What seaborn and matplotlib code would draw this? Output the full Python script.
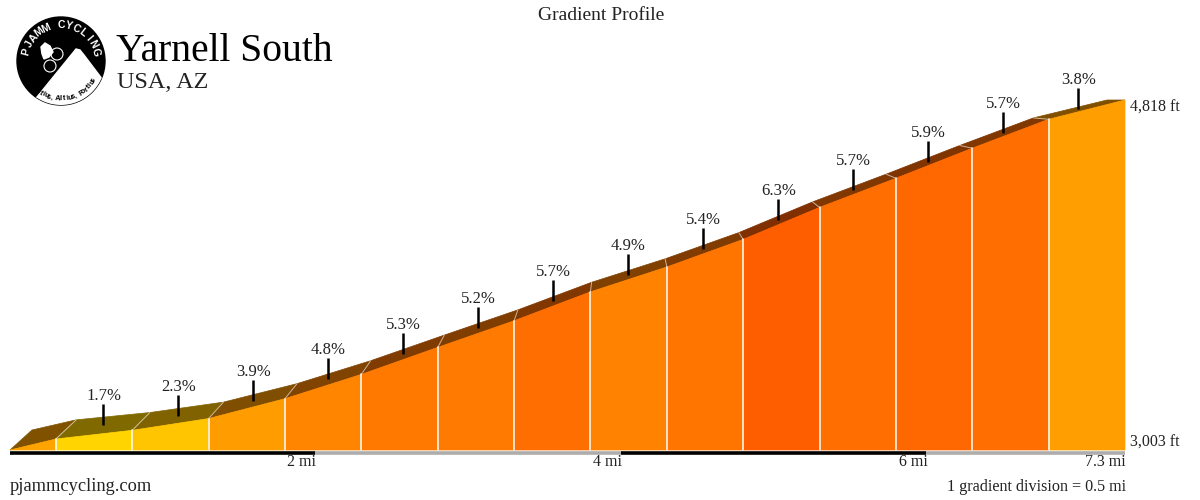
import numpy as np
import pandas as pd
import matplotlib
matplotlib.use("Agg")
import matplotlib.pyplot as plt
from matplotlib.colors import LinearSegmentedColormap, Normalize, to_rgb
from matplotlib.patches import Polygon, Circle
import seaborn as sns

# gradient divisions: boundaries (mi), elevation at each boundary (ft), grade of each division (%)
dist_mi = [0.0, 0.3, 0.8, 1.3, 1.8, 2.3, 2.8, 3.3, 3.8, 4.3, 4.8, 5.3, 5.8, 6.3, 6.8, 7.3]
elev_ft = [3003, 3060, 3105, 3166, 3269, 3395, 3535, 3673, 3823, 3952, 4095, 4261, 4412, 4568, 4718, 4818]
grade_pct = [3.6, 1.7, 2.3, 3.9, 4.8, 5.3, 5.2, 5.7, 4.9, 5.4, 6.3, 5.7, 5.9, 5.7, 3.8]
show_label = [False] + [True] * 14

dist_ticks = [2, 4, 6, 7.3]
dist_tick_labels = ["2 mi", "4 mi", "6 mi", "7.3 mi"]
bar_stops = [0, 2, 4, 6, 7.3]
bar_colors = ["black", "#adadad", "black", "#adadad"]

climb_name = "Yarnell South"
climb_place = "USA, AZ"

sns.set_theme(style="white")
plt.rcParams["font.family"] = ["Liberation Serif", "DejaVu Serif"]

fig = plt.figure(figsize=(12, 5), dpi=100)
W, H = 1200, 500
ax = fig.add_axes([10 / W, 50 / H, 1115 / W, 350 / H])
ax.set_xlim(dist_mi[0], dist_mi[-1])
ax.set_ylim(elev_ft[0], elev_ft[-1])
ax.axis("off")

cmap = LinearSegmentedColormap.from_list("grade", ["#ffff00", "#ff0000"])
norm = Normalize(0, 10)


def to_px(x, y):
    return ax.transData.transform((x, y))


def to_data(px, py):
    return ax.transData.inverted().transform((px, py))


def back_point(x, y):
    # 3D look: back edge of the road is the front edge pushed a few pixels away
    px, py = to_px(x, y)
    f = x / dist_mi[-1]
    return to_data(px + 22 - 40 * f, py + 20 * (1 - f))


base = elev_ft[0]
for i, g in enumerate(grade_pct):
    x0, x1 = dist_mi[i], dist_mi[i + 1]
    e0, e1 = elev_ft[i], elev_ft[i + 1]
    front = np.array(to_rgb(cmap(norm(g))))
    top = front * 0.5
    b0, b1 = back_point(x0, e0), back_point(x1, e1)
    ax.add_patch(Polygon([(x0, e0), (x1, e1), tuple(b1), tuple(b0)], closed=True,
                         facecolor=top, edgecolor=top, lw=0.5, clip_on=False, zorder=2))
    ax.add_patch(Polygon([(x0, base), (x0, e0), (x1, e1), (x1, base)], closed=True,
                         facecolor=front, edgecolor=front, lw=0.5, clip_on=False, zorder=2))

# division lines
for x, e in zip(dist_mi[1:-1], elev_ft[1:-1]):
    ax.plot([x, x], [base, e], color="white", lw=1.1, zorder=3, clip_on=False)
    b = back_point(x, e)
    ax.plot([x, b[0]], [e, b[1]], color="white", lw=0.7, alpha=0.6, zorder=3, clip_on=False)

# gradient labels with their ticks
for i, g in enumerate(grade_pct):
    if not show_label[i]:
        continue
    xm = (dist_mi[i] + dist_mi[i + 1]) / 2
    em = (elev_ft[i] + elev_ft[i + 1]) / 2
    fx, fy = to_px(xm, em)
    bx, by = to_px(*back_point(xm, em))
    mx, my = (fx + bx) / 2, (fy + by) / 2
    p0, p1 = to_data(mx, my), to_data(mx, my + 21)
    ax.plot([p0[0], p1[0]], [p0[1], p1[1]], color="black", lw=1.8, zorder=4,
            solid_capstyle="butt", clip_on=False)
    t = to_data(mx, my + 25)
    ax.text(t[0], t[1], f"{g}%", ha="center", va="baseline", fontsize=12,
            color="#222222", zorder=5)

# distance bar along the bottom
bar_y = to_data(0, to_px(0, base)[1] - 2.8)[1]
rows = []
for k in range(len(bar_stops) - 1):
    rows.append({"x": bar_stops[k], "y": bar_y, "band": k})
    rows.append({"x": bar_stops[k + 1], "y": bar_y, "band": k})
bar_df = pd.DataFrame(rows)
sns.lineplot(data=bar_df, x="x", y="y", hue="band", palette=bar_colors, lw=2.6,
             estimator=None, sort=False, legend=False, ax=ax, solid_capstyle="butt",
             clip_on=False, zorder=3)
ax.axis("off")

for x, lab in zip(dist_ticks, dist_tick_labels):
    ax.annotate(lab, (x, base), xytext=(1, -16.5), textcoords="offset pixels",
                ha="right", va="baseline", fontsize=11.5, color="#222222")

ax.annotate(f"{elev_ft[-1]:,} ft", (dist_mi[-1], elev_ft[-1]), xytext=(5, -12),
            textcoords="offset pixels", ha="left", va="baseline", fontsize=11.5, color="#222222")
ax.annotate(f"{elev_ft[0]:,} ft", (dist_mi[-1], elev_ft[0]), xytext=(5, 3),
            textcoords="offset pixels", ha="left", va="baseline", fontsize=11.5, color="#222222")

# header and footer text
fig.text(601 / W, 1 - 20 / H, "Gradient Profile", ha="center", va="baseline", fontsize=14, color="#222222")
fig.text(116 / W, 1 - 61 / H, climb_name, ha="left", va="baseline", fontsize=28.5, color="black")
fig.text(117 / W, 1 - 88 / H, climb_place, ha="left", va="baseline", fontsize=17.5, color="#222222")
fig.text(10 / W, 1 - 491 / H, "pjammcycling.com", ha="left", va="baseline", fontsize=13.2, color="#222222")
fig.text(1126 / W, 1 - 491 / H, "1 gradient division = 0.5 mi", ha="right", va="baseline",
         fontsize=11.6, color="#222222")

# logo
lg = fig.add_axes([13 / W, 1 - 109 / H, 96 / W, 96 / H])
lg.set_xlim(0, 96)
lg.set_ylim(0, 96)
lg.axis("off")
cx, cy, r = 48, 48, 44
disc = Circle((cx, cy), r, color="black")
lg.add_patch(disc)


def lp(px, py):
    return (px - 13, 109 - py)


mountain = Polygon([lp(76, 49), lp(80, 50), lp(84, 55), lp(112, 92), lp(112, 112),
                    lp(20, 112), lp(30, 104), lp(37, 97)], closed=True, color="white")
lg.add_patch(mountain)
mountain.set_clip_path(disc)
for (wx, wy) in [(57, 54), (50, 66)]:
    lg.add_patch(Circle(lp(wx, wy), 6, fill=False, ec="white", lw=0.8))
lg.add_patch(Polygon([lp(41, 47), lp(45, 43), lp(50, 46), lp(53, 52), lp(49, 57),
                      lp(44, 59), lp(42, 54)], closed=True, color="white"))


def arc_text(s, rad, a0, a1, **kw):
    for ch, a in zip(s, np.linspace(a0, a1, len(s))):
        t = np.deg2rad(a)
        rot = a - 90 if a0 > a1 else a + 90
        lg.text(cx + rad * np.cos(t), cy + rad * np.sin(t), ch, rotation=rot,
                rotation_mode="anchor", ha="center", va="center", family="Liberation Sans", **kw)


arc_text("PJAMM CYCLING", 36, 165, 15, fontsize=7.5, color="white", fontweight="bold")
arc_text("Citius, Altius, Fortius", 38, -132, -30, fontsize=5.5, color="black", fontweight="bold")

fig.savefig("out.png", dpi=100, facecolor="white")
